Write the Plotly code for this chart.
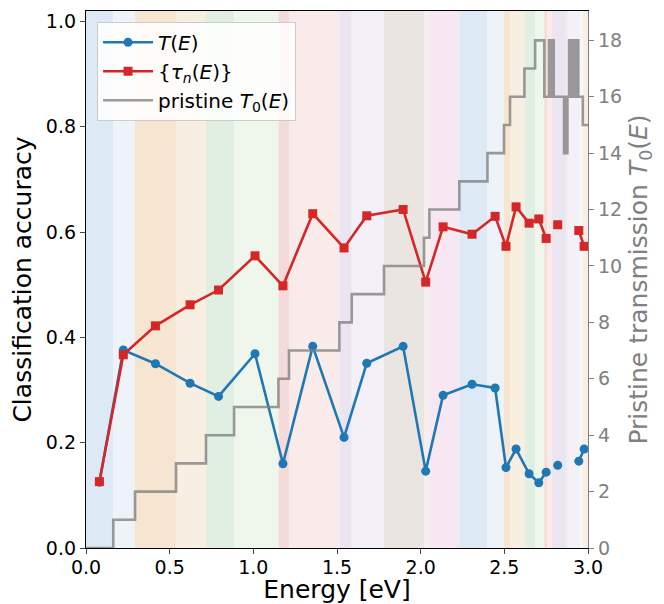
import plotly.graph_objects as go

# ---------------- data ----------------
energy = [0.080, 0.223, 0.415, 0.622, 0.792, 1.010, 1.177, 1.355, 1.542, 1.678,
          1.895, 2.030, 2.134, 2.307, 2.445, 2.510, 2.570, 2.648, 2.706, 2.750,
          2.785, 2.819, 2.880, 2.945, 2.977]
acc_T = [0.125, 0.376, 0.350, 0.313, 0.288, 0.369, 0.160, 0.383, 0.210, 0.351,
         0.383, 0.146, 0.290, 0.311, 0.304, 0.153, 0.188, 0.141, 0.124, 0.144,
         None, 0.157, None, 0.165, 0.188]
acc_tau = [0.126, 0.367, 0.422, 0.462, 0.490, 0.555, 0.498, 0.635, 0.570, 0.631,
           0.643, 0.505, 0.610, 0.596, 0.630, 0.573, 0.648, 0.617, 0.625, 0.588,
           None, 0.614, None, 0.603, 0.573]

# pristine transmission steps (energy where a value starts, value)
t0_energy = [0.000, 0.163, 0.293, 0.538, 0.717, 0.885, 1.150, 1.213, 1.514, 1.588,
             1.781, 2.020, 2.052, 2.231, 2.399, 2.498, 2.534, 2.620, 2.684, 2.739,
             2.767, 2.771, 2.775, 2.779, 2.783, 2.787, 2.791, 2.795,
             2.857, 2.861, 2.865, 2.869, 2.873, 2.877, 2.881,
             2.887, 2.892, 2.897, 2.902, 2.907, 2.912, 2.917, 2.922, 2.927, 2.932,
             2.937, 2.942, 2.947, 2.969, 3.000]
t0_value = [0, 1, 2, 3, 4, 5, 6, 7, 8, 9,
            10, 11, 12, 13, 14, 15, 16, 17, 18, 16,
            18, 16, 18, 16, 18, 16, 18, 16,
            14, 16, 14, 16, 14, 16, 16,
            18, 16, 18, 16, 18, 16, 18, 16, 18, 16,
            18, 16, 16, 15, 15]

# background band edges (energy)
band_edges = [0.000, 0.163, 0.293, 0.538, 0.717, 0.885, 1.150, 1.213, 1.514, 1.588,
              1.781, 2.020, 2.052, 2.231, 2.399, 2.498, 2.534, 2.620, 2.684, 2.739,
              2.757, 2.785, 2.868, 2.880, 2.895, 2.918, 2.953, 2.970, 3.000]

# ---------------- style ----------------
BLUE, LBLUE = "#dde9f4", "#eef2f9"
ORANGE, LORANGE = "#f6e5d1", "#f9eee2"
GREEN, LGREEN = "#e0efe2", "#eff7ec"
RED, LRED = "#f5dada", "#f9ebe9"
PURPLE, LPURPLE = "#ebe5f1", "#f3f1f7"
BROWN, LBROWN = "#ebe5e2", "#f5efed"
PINK, LPINK = "#f7e7f2", "#f9eef5"
band_colors = [BLUE, LBLUE, ORANGE, LORANGE, GREEN, LGREEN, RED, LRED, PURPLE, LPURPLE,
               BROWN, LBROWN, PINK, BLUE, LBLUE, ORANGE, LORANGE, GREEN, LGREEN, RED,
               LRED, PURPLE, "#efedee", LPURPLE, LPINK, LBLUE, "#f7f7f9", LORANGE]

FONT = "DejaVu Sans"
GREY = "#808080"

fig = go.Figure()

shapes = []
for i in range(len(band_edges) - 1):
    shapes.append(dict(type="rect", xref="x", yref="paper",
                       x0=band_edges[i], x1=band_edges[i + 1], y0=0, y1=1,
                       fillcolor=band_colors[i], line=dict(width=0), layer="below"))

fig.add_trace(go.Scatter(
    x=t0_energy, y=t0_value, yaxis="y2", mode="lines",
    line=dict(shape="hv", color="rgba(127,127,127,0.78)", width=2.6),
    name="pristine <i>T</i><sub>0</sub>(<i>E</i>)", legendrank=3))

fig.add_trace(go.Scatter(
    x=energy, y=acc_T, mode="lines+markers",
    line=dict(color="#1f77b4", width=2.6),
    marker=dict(symbol="circle", size=9, color="#1f77b4"),
    name="<i>T</i>(<i>E</i>)", legendrank=1))

fig.add_trace(go.Scatter(
    x=energy, y=acc_tau, mode="lines+markers",
    line=dict(color="#d62728", width=2.6),
    marker=dict(symbol="square", size=9, color="#d62728"),
    name="{<i>τ<sub>n</sub></i>(<i>E</i>)}", legendrank=2))

fig.update_layout(
    width=656, height=596,
    margin=dict(l=78, r=76, t=3, b=56, autoexpand=False),
    paper_bgcolor="white", plot_bgcolor="white",
    font=dict(family=FONT, size=19, color="black"),
    shapes=shapes,
    showlegend=True,
    legend=dict(x=0.022, y=0.98, xanchor="left", yanchor="top",
                bgcolor="rgba(255,255,255,0.85)", bordercolor="#cccccc", borderwidth=1,
                font=dict(family=FONT, size=20), tracegroupgap=3, itemwidth=50),
    xaxis=dict(range=[0, 3.0], tickvals=[0, 0.5, 1.0, 1.5, 2.0, 2.5, 3.0],
               ticktext=["0.0", "0.5", "1.0", "1.5", "2.0", "2.5", "3.0"],
               showgrid=False, zeroline=False, showline=True, linecolor="black",
               linewidth=1.3, mirror=True, ticks="outside", ticklen=5, tickwidth=1.3,
               tickfont=dict(size=19), automargin=False, ticklabelstandoff=-3,
               title=dict(text="Energy [eV]", font=dict(size=25), standoff=4)),
    yaxis=dict(range=[0, 1.02], tickvals=[0, 0.2, 0.4, 0.6, 0.8, 1.0],
               ticktext=["0.0", "0.2", "0.4", "0.6", "0.8", "1.0"],
               showgrid=False, zeroline=False, showline=True, linecolor="black",
               linewidth=1.3, ticks="outside", ticklen=5, tickwidth=1.3,
               tickfont=dict(size=19), automargin=False,
               title=dict(text="Classification accuracy", font=dict(size=25), standoff=8)),
    yaxis2=dict(range=[0, 19.04], overlaying="y", side="right",
                tickvals=list(range(0, 19, 2)),
                showgrid=False, zeroline=False, showline=True, linecolor=GREY,
                linewidth=1.3, ticks="outside", ticklen=5, tickwidth=1.3, tickcolor=GREY,
                tickfont=dict(size=19, color=GREY), automargin=False,
                title=dict(text="Pristine transmission <i>T</i><sub>0</sub>(<i>E</i>)",
                           font=dict(size=25, color=GREY), standoff=8)),
)

fig.write_html("out.html")
